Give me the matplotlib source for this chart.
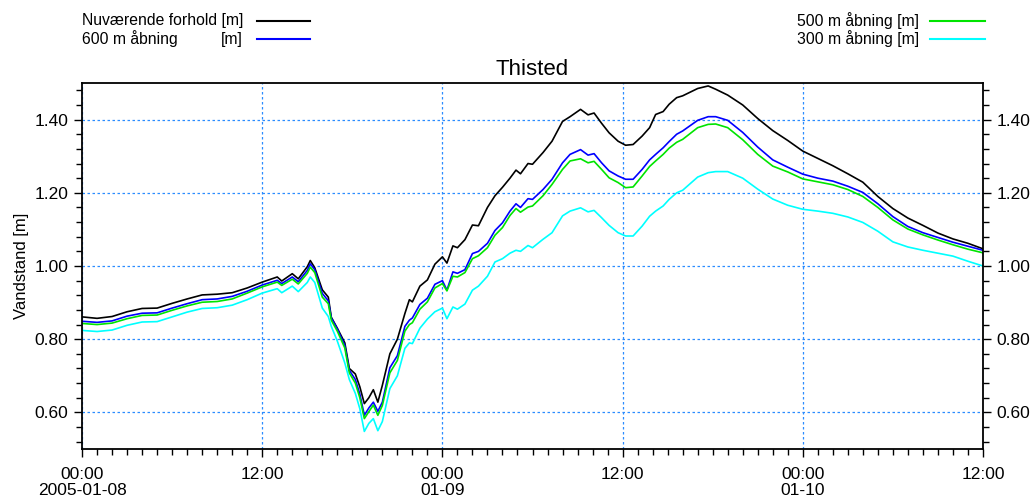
import numpy as np
import pandas as pd
import matplotlib
matplotlib.use("Agg")
from matplotlib import pyplot as plt
from matplotlib.lines import Line2D
from matplotlib.ticker import MultipleLocator

plt.rcParams["font.family"] = ["Liberation Sans", "DejaVu Sans"]

# hours since 2005-01-08 00:00
hours = [0, 1, 2, 3, 4, 5, 6, 7, 8, 9, 10, 11, 12, 13, 13.3, 14, 14.4, 15, 15.2,
         15.5, 16, 16.4, 16.6, 17, 17.5, 17.8, 18.2, 18.5, 18.8, 19.1, 19.4, 19.7,
         20, 20.5, 21, 21.5, 21.8, 22, 22.5, 23, 23.5, 24, 24.3, 24.7, 25, 25.5,
         26, 26.4, 27, 27.5, 28, 28.5, 28.9, 29.2, 29.7, 30, 30.7, 31.3, 32, 32.5,
         33.2, 33.7, 34.1, 34.6, 35.1, 35.7, 36.2, 36.7, 37.3, 37.8, 38.2, 38.7,
         39.1, 39.6, 40, 41, 41.7, 42.2, 43, 44, 45, 46, 47, 48, 49, 50, 51, 52,
         53, 54, 55, 56, 57, 58, 59, 60]

nuvaerende = [0.861, 0.857, 0.862, 0.875, 0.884, 0.885, 0.898, 0.910, 0.921, 0.923,
              0.927, 0.940, 0.956, 0.970, 0.959, 0.979, 0.965, 0.998, 1.015,
              0.995, 0.935, 0.915, 0.860, 0.830, 0.790, 0.720, 0.705, 0.670, 0.624,
              0.640, 0.662, 0.628, 0.674, 0.760, 0.800, 0.870, 0.908, 0.902, 0.945,
              0.962, 1.005, 1.025, 1.008, 1.055, 1.050, 1.072, 1.112, 1.110, 1.160,
              1.192, 1.215, 1.240, 1.262, 1.252, 1.280, 1.278, 1.310, 1.341, 1.395,
              1.408, 1.428, 1.413, 1.418, 1.390, 1.364, 1.341, 1.330, 1.332, 1.355,
              1.378, 1.414, 1.422, 1.442, 1.460, 1.465, 1.485, 1.492, 1.483, 1.467,
              1.440, 1.403, 1.370, 1.343, 1.314, 1.294, 1.274, 1.252, 1.229, 1.190,
              1.157, 1.131, 1.111, 1.090, 1.074, 1.062, 1.047]

aabning_600 = [0.849, 0.846, 0.850, 0.863, 0.871, 0.872, 0.885, 0.897, 0.908, 0.910,
               0.917, 0.931, 0.948, 0.961, 0.952, 0.970, 0.957, 0.988, 1.006,
               0.990, 0.925, 0.905, 0.858, 0.828, 0.783, 0.715, 0.690, 0.650, 0.592,
               0.612, 0.628, 0.603, 0.628, 0.722, 0.755, 0.835, 0.852, 0.858, 0.895,
               0.912, 0.950, 0.960, 0.934, 0.984, 0.980, 0.990, 1.034, 1.040, 1.062,
               1.097, 1.118, 1.150, 1.170, 1.160, 1.184, 1.182, 1.209, 1.237, 1.282,
               1.305, 1.318, 1.303, 1.307, 1.282, 1.260, 1.246, 1.237, 1.237, 1.264,
               1.290, 1.305, 1.323, 1.340, 1.360, 1.369, 1.398, 1.408, 1.408, 1.398,
               1.365, 1.325, 1.290, 1.270, 1.251, 1.240, 1.232, 1.218, 1.201, 1.170,
               1.135, 1.108, 1.091, 1.078, 1.065, 1.054, 1.043]

aabning_500 = [0.843, 0.840, 0.844, 0.856, 0.865, 0.866, 0.879, 0.891, 0.901, 0.903,
               0.910, 0.926, 0.943, 0.956, 0.947, 0.964, 0.951, 0.980, 0.997,
               0.982, 0.915, 0.897, 0.852, 0.822, 0.776, 0.708, 0.680, 0.640, 0.583,
               0.602, 0.620, 0.592, 0.619, 0.708, 0.742, 0.822, 0.840, 0.845, 0.882,
               0.902, 0.940, 0.952, 0.932, 0.972, 0.970, 0.982, 1.020, 1.028, 1.050,
               1.084, 1.105, 1.138, 1.157, 1.147, 1.161, 1.164, 1.192, 1.223, 1.264,
               1.287, 1.293, 1.282, 1.286, 1.264, 1.241, 1.228, 1.214, 1.216, 1.246,
               1.272, 1.287, 1.305, 1.322, 1.338, 1.346, 1.378, 1.387, 1.388, 1.378,
               1.345, 1.305, 1.273, 1.257, 1.238, 1.230, 1.222, 1.209, 1.190, 1.160,
               1.126, 1.101, 1.085, 1.071, 1.058, 1.046, 1.036]

aabning_300 = [0.824, 0.821, 0.825, 0.838, 0.847, 0.848, 0.861, 0.874, 0.884, 0.886,
               0.893, 0.908, 0.926, 0.938, 0.927, 0.945, 0.930, 0.955, 0.970,
               0.955, 0.885, 0.862, 0.835, 0.795, 0.735, 0.690, 0.652, 0.610, 0.548,
               0.570, 0.583, 0.550, 0.575, 0.665, 0.700, 0.775, 0.790, 0.788, 0.830,
               0.855, 0.875, 0.885, 0.856, 0.888, 0.882, 0.896, 0.934, 0.945, 0.972,
               1.011, 1.020, 1.035, 1.043, 1.040, 1.056, 1.050, 1.073, 1.091, 1.137,
               1.150, 1.159, 1.148, 1.152, 1.132, 1.111, 1.091, 1.082, 1.082, 1.109,
               1.136, 1.150, 1.164, 1.182, 1.200, 1.207, 1.243, 1.255, 1.258, 1.258,
               1.240, 1.210, 1.183, 1.166, 1.155, 1.150, 1.144, 1.134, 1.119, 1.095,
               1.066, 1.052, 1.043, 1.035, 1.027, 1.013, 1.000]

labels = ["Nuværende forhold [m]", "600 m åbning", "500 m åbning [m]", "300 m åbning [m]"]
colors = ["black", "#0000ff", "#00e400", "#00ffff"]

tick_hours = [0, 12, 24, 36, 48, 60]
tick_labels = ["00:00\n2005-01-08", "12:00", "00:00\n01-09", "12:00",
               "00:00\n01-10", "12:00"]

fig = plt.figure(figsize=(10.36, 5.01), dpi=100)
ax = fig.add_axes([0.0792, 0.1038, 0.8696, 0.7305])

series = [nuvaerende, aabning_600, aabning_500, aabning_300]
for vals, col in zip(series, colors):
    ax.plot(hours, vals, color=col, lw=1.2)

ax.set_xlim(0, 60)
ax.set_ylim(0.5, 1.5)
ax.set_xticks(tick_hours, tick_labels, linespacing=1.05)
ax.xaxis.set_minor_locator(MultipleLocator(1))
ax.set_yticks([0.6, 0.8, 1.0, 1.2, 1.4])
ax.yaxis.set_major_formatter(plt.FormatStrFormatter("%.2f"))
ax.yaxis.set_minor_locator(MultipleLocator(0.04))
ax.tick_params(which="both", direction="out", labelsize=12.5, right=True,
               labelright=True, width=1.0)
ax.tick_params(which="major", length=6, pad=4)
ax.tick_params(which="minor", length=4)
ax.tick_params(axis="x", pad=7)
for sp in ax.spines.values():
    sp.set_linewidth(1.3)
ax.grid(True, which="major", color="#2a8cff", linestyle=(0, (2, 2)), lw=0.9)

ax.set_title("Thisted", fontsize=16, pad=6)
ax.set_ylabel("Vandstand [m]", fontsize=12, labelpad=4)

# legend drawn by hand in two blocks like the original
W, H = 1036, 501
def ftxt(x, y, s, ha="left"):
    fig.text(x / W, 1 - y / H, s, fontsize=11.3, va="center", ha=ha)

def fline(x0, x1, y, c):
    fig.add_artist(Line2D([x0 / W, x1 / W], [1 - y / H, 1 - y / H],
                          color=c, lw=1.5, transform=fig.transFigure))

ftxt(82, 21, labels[0])
fline(257, 310, 21, colors[0])
ftxt(82, 39, labels[1])
ftxt(243, 39, "[m]", ha="right")
fline(257, 310, 39, colors[1])
ftxt(797, 21, labels[2])
fline(930, 985, 21, colors[2])
ftxt(797, 39, labels[3])
fline(930, 985, 39, colors[3])

fig.savefig("out.png", dpi=100)
